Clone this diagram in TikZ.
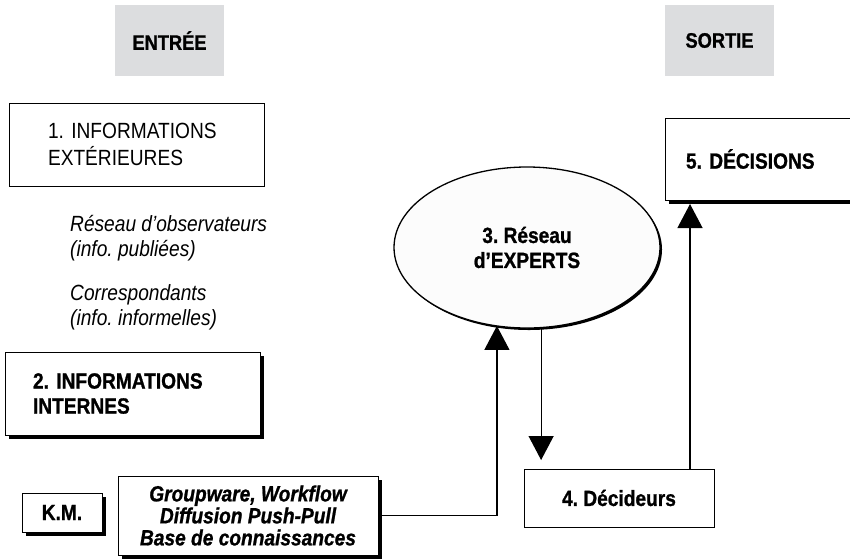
\documentclass[tikz,border=0pt]{standalone}
\usepackage{fontspec}
\setmainfont{Liberation Sans}[FakeStretch=0.87,
  BoldFeatures={FakeBold=1}, BoldItalicFeatures={FakeBold=1}]
\usetikzlibrary{arrows.meta,shapes.geometric,shadows}
\definecolor{headgray}{RGB}{220,221,223}
\definecolor{bubble}{RGB}{252,252,252}
\frenchspacing
\tikzset{
  headbox/.style={fill=headgray, minimum width=109pt, minimum height=71pt,
    font=\bfseries\fontsize{21}{26}\selectfont},
  plainbox/.style={draw, line width=1pt, fill=white, outer sep=0pt, inner ysep=0pt},
  shadowbox/.style={plainbox, drop shadow={shadow xshift=4pt, shadow yshift=-4pt, fill=black, opacity=1}},
  boldtext/.style={font=\bfseries\fontsize{22}{25}\selectfont},
  softtext/.style={font=\itshape\fontsize{22}{25}\selectfont, align=left, anchor=west, inner xsep=0pt},
  flow/.style={line width=1.2pt, -{Triangle[width=25pt,length=24pt]}},
}
\begin{document}
\begin{tikzpicture}[x=1pt,y=-1pt]
    \useasboundingbox (0,0) rectangle (850,558);
    \node[headbox] (entree) at (169.5,40.5) {ENTRÉE};
    \node[headbox] (sortie) at (719.5,40.5) {SORTIE};
    % left column
    \node[plainbox, minimum height=83pt, inner xsep=39pt, text width=177pt, align=left,
        font=\fontsize{22}{27}\selectfont] (ext) at (136.5,144.5) {1. INFORMATIONS\\EXTÉRIEURES};
    \node[softtext] (obs) at (70,238) {Réseau d’observateurs\\(info. publiées)};
    \node[softtext] (corr) at (70,307) {Correspondants\\(info. informelles)};
    \node[shadowbox, boldtext, minimum height=83pt, inner xsep=28pt, text width=199pt,
        align=left] (int) at (132.5,393.5) {2. INFORMATIONS\\INTERNES};
    \node[shadowbox, boldtext, minimum width=80pt, minimum height=39pt] (km) at (62,512.5) {K.M.};
    \node[shadowbox, minimum width=260pt, minimum height=79pt, align=center,
        font=\bfseries\itshape\fontsize{22}{22}\selectfont] (tools) at (248,515.5)
        {Groupware, Workflow\\Diffusion Push-Pull\\Base de connaissances};
    % right part
    \node[ellipse, draw, line width=1.3pt, fill=bubble, outer sep=0pt, inner sep=0pt,
        minimum width=266pt, minimum height=161pt, boldtext, align=center,
        drop shadow={shadow xshift=2pt, shadow yshift=-2pt, fill=black, opacity=1}]
        (experts) at (527,247.5) {3. Réseau\\d’EXPERTS};
    \node[plainbox, boldtext, minimum width=190pt, minimum height=58pt] (deci) at (619,498) {4. Décideurs};
    \node[shadowbox, boldtext, minimum width=188pt, minimum height=82pt, text width=150pt,
        inner xsep=21pt, align=left] (dec) at (761,159) {5. DÉCISIONS};
    \coordinate (up) at (690,469);
    \draw[flow] (tools.east) -| (experts.249.1);
    \draw[flow, shorten >=9pt] (experts.280.6) -- (experts.280.6 |- deci.north);
    \draw[flow, shorten >=4pt] (up) -- (up |- dec.south);
\end{tikzpicture}
\end{document}
